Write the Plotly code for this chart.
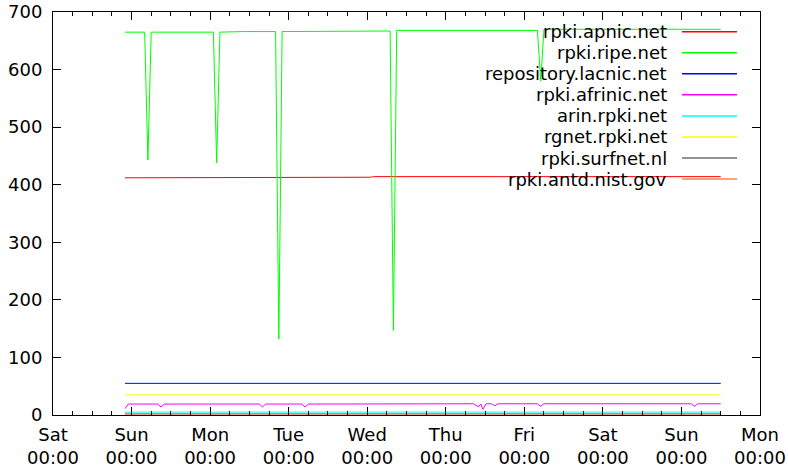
import plotly.graph_objects as go

# ---------------- data ----------------
series_names = [
    "rpki.apnic.net", "rpki.ripe.net", "repository.lacnic.net", "rpki.afrinic.net",
    "arin.rpki.net", "rgnet.rpki.net", "rpki.surfnet.nl", "rpki.antd.nist.gov",
]
series_colors = ["#ff0000", "#00ff00", "#0000ff", "#ff00ff",
                 "#00ffff", "#ffff00", "#707070", "#ff7f50"]

apnic_t = ["2012-01-07 22:00", "2012-01-10 09:00", "2012-01-10 10:00",
           "2012-01-11 01:00", "2012-01-11 02:00", "2012-01-15 12:00"]
apnic_v = [412, 412, 413, 413, 414, 414]

ripe_t = ["2012-01-07 22:00", "2012-01-08 04:00", "2012-01-08 05:00", "2012-01-08 06:00",
          "2012-01-09 01:00", "2012-01-09 02:00", "2012-01-09 03:00", "2012-01-09 10:00",
          "2012-01-09 20:00", "2012-01-09 21:00", "2012-01-09 22:00", "2012-01-10 15:00",
          "2012-01-11 07:00", "2012-01-11 08:00", "2012-01-11 09:00", "2012-01-13 04:00",
          "2012-01-13 05:00", "2012-01-13 06:00", "2012-01-15 12:00"]
ripe_v = [665, 665, 443, 665,
          665, 438, 665, 666,
          666, 132, 666, 667,
          667, 147, 668, 668,
          580, 670, 670]

lacnic_t = ["2012-01-07 22:00", "2012-01-15 12:00"]
lacnic_v = [55, 55]

afrinic_t = ["2012-01-07 22:00", "2012-01-07 23:00", "2012-01-08 08:00", "2012-01-08 09:00",
             "2012-01-08 10:00", "2012-01-09 15:00", "2012-01-09 16:00", "2012-01-09 17:00",
             "2012-01-10 04:00", "2012-01-10 05:00", "2012-01-10 06:00", "2012-01-10 21:00",
             "2012-01-10 22:00", "2012-01-12 08:30", "2012-01-12 10:00", "2012-01-12 10:40",
             "2012-01-12 11:20", "2012-01-12 12:20", "2012-01-12 14:00", "2012-01-12 15:00",
             "2012-01-12 16:00", "2012-01-13 04:00", "2012-01-13 05:00", "2012-01-13 06:00",
             "2012-01-15 03:00", "2012-01-15 04:00", "2012-01-15 05:00", "2012-01-15 12:00"]
afrinic_v = [11, 19, 19, 14,
             19, 19, 14, 19,
             19, 14, 19, 19,
             19.5, 19.5, 14, 19,
             10, 19.5, 19.5, 16,
             19.5, 19.5, 15, 19.5,
             19.5, 15, 19.5, 19.5]

arin_t = ["2012-01-07 22:00", "2012-01-15 12:00"]
arin_v = [5, 5]

rgnet_t = ["2012-01-07 22:00", "2012-01-15 12:00"]
rgnet_v = [35, 35]

surfnet_t = ["2012-01-07 22:00", "2012-01-15 12:00"]
surfnet_v = [2, 2]

nist_t = ["2012-01-07 22:00", "2012-01-15 12:00"]
nist_v = [1.5, 1.5]

all_t = [apnic_t, ripe_t, lacnic_t, afrinic_t, arin_t, rgnet_t, surfnet_t, nist_t]
all_v = [apnic_v, ripe_v, lacnic_v, afrinic_v, arin_v, rgnet_v, surfnet_v, nist_v]

x_range = ["2012-01-07 00:00", "2012-01-16 00:00"]
y_ticks = [0, 100, 200, 300, 400, 500, 600, 700]

# ---------------- figure ----------------
FONT = "DejaVu Sans"
FS = 18
fig = go.Figure()
for name, col, t, v in zip(series_names, series_colors, all_t, all_v):
    fig.add_trace(go.Scatter(x=t, y=v, mode="lines", name=name,
                             line=dict(color=col, width=1), showlegend=False))

# gnuplot-style key: right-aligned text followed by a line sample
L, R, T, B = 53, 28, 12, 52
W, H = 788, 467
pw, ph = W - L - R, H - T - B
text_right = (669 - L) / pw
seg_x0 = (682 - L) / pw
seg_x1 = (737 - L) / pw
for i, (name, col) in enumerate(zip(series_names, series_colors)):
    py = 31.7 + i * 21.05
    yp = (H - B - py) / ph
    fig.add_annotation(x=text_right, y=yp, xref="paper", yref="paper",
                       text=name, showarrow=False, xanchor="right", yanchor="middle",
                       font=dict(family=FONT, size=FS, color="black"))
    fig.add_shape(type="line", xref="paper", yref="paper",
                  x0=seg_x0, x1=seg_x1, y0=yp, y1=yp,
                  line=dict(color=col, width=1.5))

fig.update_layout(
    width=W, height=H,
    margin=dict(l=L, r=R, t=T, b=B, autoexpand=False),
    paper_bgcolor="white", plot_bgcolor="white",
    font=dict(family=FONT, size=FS, color="black"),
    showlegend=False,
    xaxis=dict(
        type="date", range=x_range, automargin=False,
        tick0="2012-01-07", dtick=86400000, tickformat="%a<br>%H:%M",
        ticks="inside", ticklen=8, tickwidth=1, tickcolor="black",
        minor=dict(dtick=6 * 3600000, ticks="inside", ticklen=4, tickcolor="black", showgrid=False),
        showline=True, linecolor="black", linewidth=1, mirror="allticks",
        showgrid=False, zeroline=False, ticklabelstandoff=3,
    ),
    yaxis=dict(
        range=[0, 700], tickvals=y_ticks, automargin=False,
        ticks="inside", ticklen=8, tickwidth=1, tickcolor="black",
        showline=True, linecolor="black", linewidth=1, mirror="allticks",
        showgrid=False, zeroline=False, ticklabelstandoff=6,
    ),
)

fig.write_html("out.html", config={"displayModeBar": False},
               post_script="document.body.style.margin='0';")
